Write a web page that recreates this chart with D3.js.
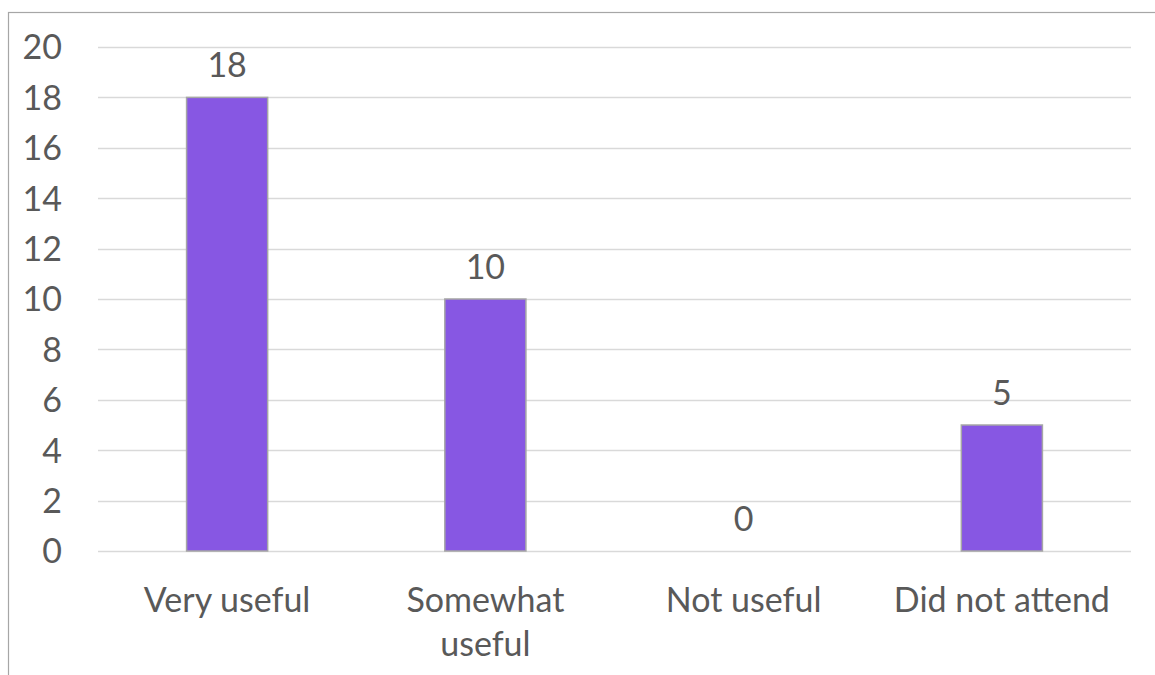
<!DOCTYPE html>
<html>
<head>
<meta charset="utf-8">
<script src="https://cdn.jsdelivr.net/npm/d3@7"></script>
<style>
  html, body { margin: 0; padding: 0; background: #fff; }
  svg { display: block; }
  text { font-family: Lato, "Open Sans", sans-serif; fill: #595959; }
</style>
</head>
<body>
<svg id="chart" width="1155" height="675"></svg>
<script>
// Survey responses: how useful the session was
const categories = ["Very useful", "Somewhat useful", "Not useful", "Did not attend"];
const counts = [18, 10, 0, 5];
const yTicks = [0, 2, 4, 6, 8, 10, 12, 14, 16, 18, 20];

const svg = d3.select("#chart");
const W = 1155, H = 675;
const margin = { left: 98, right: 24, top: 47, bottom: 124 };
const FS = 34;

// Chart frame (only the top and left edges fall inside the view)
svg.append("rect")
  .attr("x", 8.5).attr("y", 12.5)
  .attr("width", 1200).attr("height", 800)
  .attr("fill", "none").attr("stroke", "#a6a6a6").attr("stroke-width", 1.2);

const x = d3.scaleBand()
  .domain(categories)
  .range([margin.left, W - margin.right])
  .paddingInner(0.686).paddingOuter(0.343);

const y = d3.scaleLinear()
  .domain([0, 20])
  .range([H - margin.bottom, margin.top]);

// Horizontal gridlines
svg.append("g")
  .selectAll("line")
  .data(yTicks)
  .join("line")
  .attr("x1", margin.left).attr("x2", W - margin.right)
  .attr("y1", d => Math.round(y(d)) + 0.5).attr("y2", d => Math.round(y(d)) + 0.5)
  .attr("stroke", "#d9d9d9").attr("stroke-width", 1.5);

// Y axis labels
const yAxis = d3.axisLeft(y).tickValues(yTicks).tickSize(0).tickPadding(0);
const gy = svg.append("g")
  .attr("transform", `translate(${margin.left - 36},0)`)
  .call(yAxis);
gy.select(".domain").remove();
gy.selectAll("text")
  .attr("font-size", FS)
  .attr("dy", "0.35em")
  .style("font-family", "Lato, 'Open Sans', sans-serif")
  .attr("fill", "#595959");

// Bars
svg.append("g")
  .selectAll("rect")
  .data(counts)
  .join("rect")
  .attr("x", (d, i) => x(categories[i]))
  .attr("y", d => y(d))
  .attr("width", x.bandwidth())
  .attr("height", d => y(0) - y(d))
  .attr("fill", "#8757e3")
  .attr("stroke", "#a6a6a6")
  .attr("stroke-width", d => d > 0 ? 1.5 : 0);

// Value labels above bars
svg.append("g")
  .selectAll("text")
  .data(counts)
  .join("text")
  .attr("x", (d, i) => x(categories[i]) + x.bandwidth() / 2)
  .attr("y", d => y(d) - 20)
  .attr("text-anchor", "middle")
  .attr("font-size", FS)
  .text(d => d);

// Category labels, wrapped to fit the band
const xAxis = d3.axisBottom(x).tickSize(0).tickPadding(0);
const gx = svg.append("g")
  .attr("transform", `translate(0,${y(0)})`)
  .call(xAxis);
gx.select(".domain").remove();
gx.selectAll("text").remove();
const step = x.step();
gx.selectAll(".tick").each(function(d) {
  const words = d.split(" ");
  const t = d3.select(this).append("text")
    .attr("text-anchor", "middle")
    .attr("font-size", FS)
    .attr("fill", "#595959");
  // simple word wrap against the category width
  const lines = [];
  let cur = "";
  const probe = t.append("tspan");
  words.forEach(w => {
    const test = cur ? cur + " " + w : w;
    probe.text(test);
    if (probe.node().getComputedTextLength() > step - 20 && cur) {
      lines.push(cur);
      cur = w;
    } else {
      cur = test;
    }
  });
  lines.push(cur);
  probe.remove();
  lines.forEach((ln, k) => {
    t.append("tspan").attr("x", 0).attr("y", 61 + k * 44).text(ln);
  });
});
</script>
</body>
</html>
